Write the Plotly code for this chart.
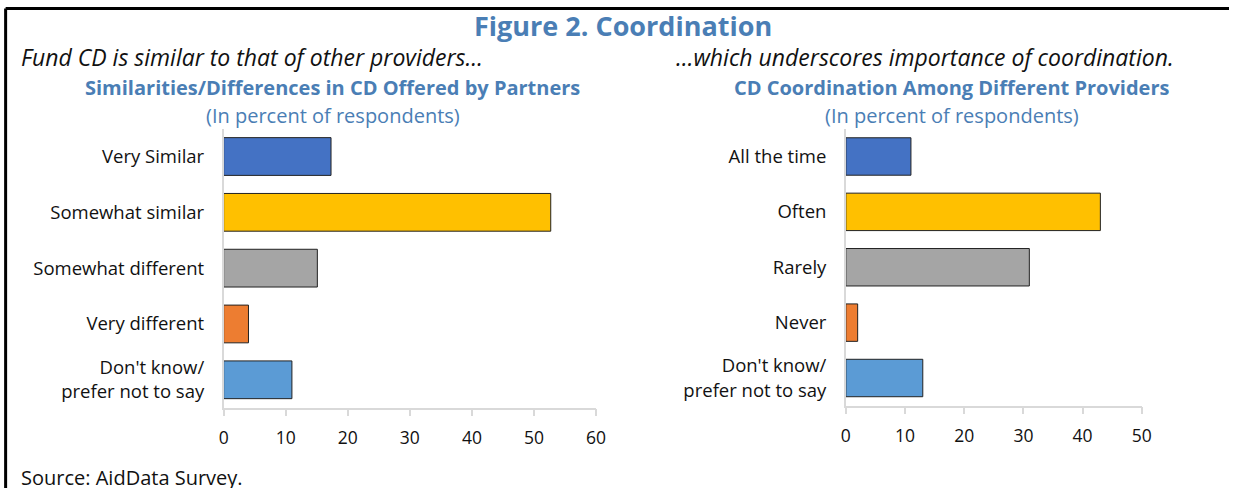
import plotly.graph_objects as go

# Left panel: similarity of CD offered by partners
similarity_categories = ["Very Similar", "Somewhat similar", "Somewhat different",
                         "Very different", "Don't know/<br>prefer not to say"]
similarity_values = [17.3, 52.7, 15.1, 4.0, 11.0]

# Right panel: coordination among providers
coordination_categories = ["All the time", "Often", "Rarely", "Never",
                           "Don't know/<br>prefer not to say"]
coordination_values = [11.0, 43.0, 31.0, 2.0, 13.0]

left_ticks = [0, 10, 20, 30, 40, 50, 60]
right_ticks = [0, 10, 20, 30, 40, 50]

bar_colors = ["#4472C4", "#FFC000", "#A5A5A5", "#ED7D31", "#5B9BD5"]

W, H = 1239, 488
FONT = "Open Sans"
BLUE = "#4A7EB5"
INK = "#111111"

# Horizontal placement helper: the page is drawn inside a 1222 px wide area
# that starts about 6 px from the left edge.
X_OFFSET, X_SCALE = 6.08, 0.986


def px_x(v):
    return ((v - X_OFFSET) / X_SCALE) / W


def px_y(v):
    return 1 - v / H


fig = go.Figure()

fig.add_trace(go.Bar(
    x=similarity_values, y=similarity_categories, orientation="h",
    marker=dict(color=bar_colors, line=dict(color="#222222", width=1)),
    width=0.676, xaxis="x", yaxis="y", hoverinfo="x+y", showlegend=False,
))
fig.add_trace(go.Bar(
    x=coordination_values, y=coordination_categories, orientation="h",
    marker=dict(color=bar_colors, line=dict(color="#222222", width=1)),
    width=0.676, xaxis="x2", yaxis="y2", hoverinfo="x+y", showlegend=False,
))

axis_common = dict(showgrid=False, zeroline=False, showline=True,
                   linecolor="#D9D9D9", linewidth=1.5)
xaxis_common = dict(ticks="outside", ticklen=7, tickcolor="#D9D9D9", tickwidth=1.5,
                    ticklabelstandoff=7, tickfont=dict(family=FONT, size=17.5, color=INK),
                    **axis_common)
yaxis_common = dict(autorange="reversed", ticks="", ticklabelstandoff=14,
                    tickfont=dict(family=FONT, size=18.5, color=INK), **axis_common)

fig.update_layout(
    width=W, height=H, autosize=False,
    margin=dict(l=0, r=0, t=0, b=0),
    paper_bgcolor="white", plot_bgcolor="white",
    bargap=0.324,
    xaxis=dict(domain=[px_x(224.3), px_x(596)], range=[0, 60], tickvals=left_ticks,
               anchor="y", **xaxis_common),
    yaxis=dict(domain=[px_y(407.7), px_y(128.6)], anchor="x", **yaxis_common),
    xaxis2=dict(domain=[px_x(845.3), px_x(1140.7)], range=[0, 50], tickvals=right_ticks,
                anchor="y2", **xaxis_common),
    yaxis2=dict(domain=[px_y(405.7), px_y(128.8)], anchor="x2", **yaxis_common),
)

texts = [
    dict(text="<b>Figure 2. Coordination</b>", x=623, y=25, size=27, color=BLUE,
         xanchor="center"),
    dict(text="<i>Fund CD is similar to that of other providers…</i>", x=20, y=57,
         size=23, color=INK, xanchor="left"),
    dict(text="<i>…which underscores importance of coordination.</i>", x=1175, y=57,
         size=23, color=INK, xanchor="right"),
    dict(text="<b>Similarities/Differences in CD Offered by Partners</b>", x=333, y=87,
         size=20, color=BLUE, xanchor="center"),
    dict(text="(In percent of respondents)", x=333, y=116, size=20, color=BLUE,
         xanchor="center"),
    dict(text="<b>CD Coordination Among Different Providers</b>", x=951, y=87,
         size=20, color=BLUE, xanchor="center"),
    dict(text="(In percent of respondents)", x=951, y=116, size=20, color=BLUE,
         xanchor="center"),
    dict(text="Source: AidData Survey.", x=20, y=477, size=20, color=INK,
         xanchor="left"),
]
for t in texts:
    fig.add_annotation(
        text=t["text"], x=px_x(t["x"]), y=px_y(t["y"]), xref="paper", yref="paper",
        xanchor=t["xanchor"], yanchor="middle", showarrow=False,
        font=dict(family=FONT, size=t["size"], color=t["color"]),
    )

# Frame: top and left edges of the box around the figure
fig.add_shape(type="line", xref="paper", yref="paper",
              x0=px_x(6.7), x1=1.0, y0=px_y(8.5), y1=px_y(8.5),
              line=dict(color="black", width=3))
fig.add_shape(type="line", xref="paper", yref="paper",
              x0=px_x(6.7), x1=px_x(6.7), y0=px_y(8.5), y1=0.0,
              line=dict(color="black", width=3))

fig.write_html(
    "out.html",
    config={"responsive": False},
    post_script="document.body.style.margin='0';document.body.style.overflow='hidden';",
)
